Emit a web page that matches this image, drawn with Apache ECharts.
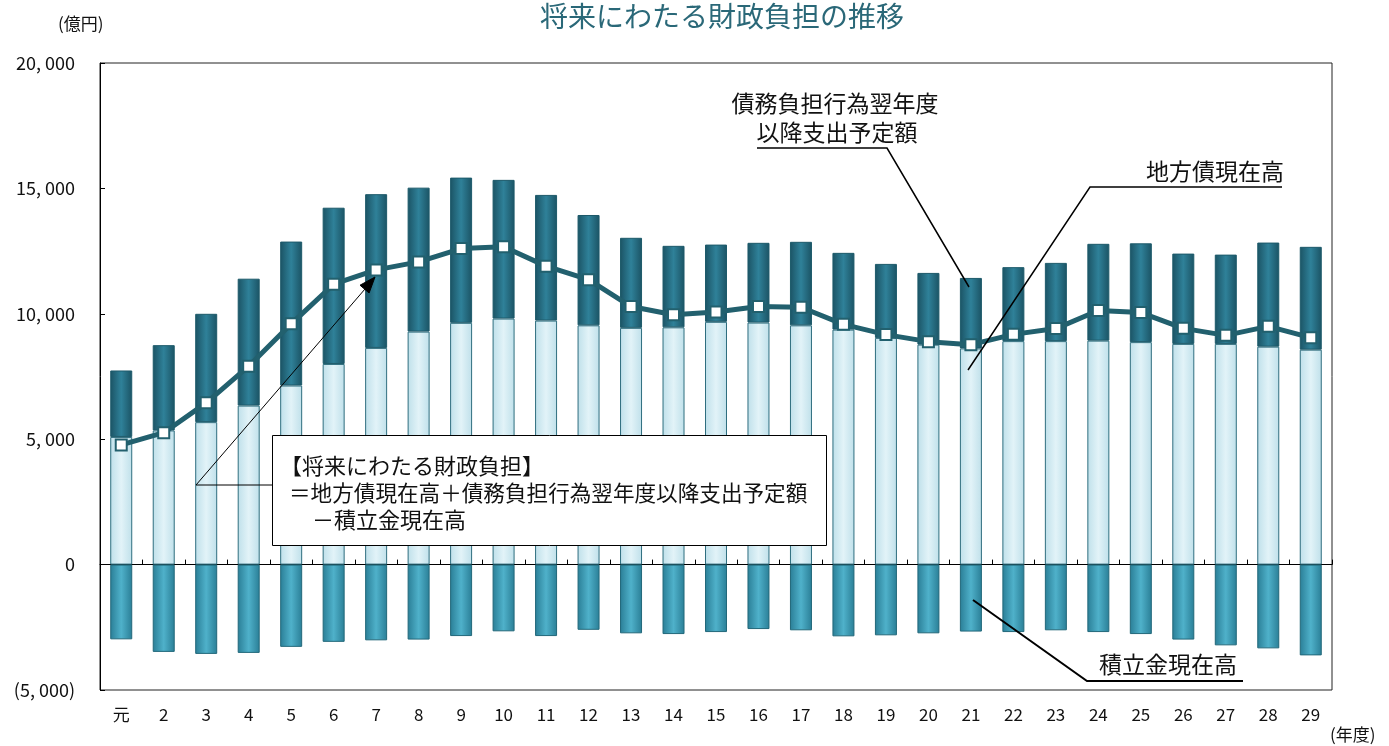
<!DOCTYPE html>
<html><head><meta charset="utf-8">
<script src="https://cdn.jsdelivr.net/npm/echarts@6/dist/echarts.min.js"></script>
<style>html,body{margin:0;padding:0;background:#fff}#c{width:1389px;height:746px}</style>
</head><body><div id="c"></div>
<script>
const categories = ['元','2','3','4','5','6','7','8','9','10','11','12','13','14','15','16','17','18','19','20','21','22','23','24','25','26','27','28','29'];
// 地方債現在高
const chihousai = [5090,5350,5680,6340,7140,8000,8640,9290,9640,9810,9730,9540,9440,9460,9680,9650,9540,9370,9040,8770,8620,8910,8910,8930,8870,8800,8800,8690,8570];
// 債務負担行為翌年度以降支出予定額
const saimu = [2650,3400,4320,5060,5740,6230,6130,5740,5790,5530,5010,4400,3590,3250,3080,3180,3330,3060,2950,2860,2810,2950,3120,3860,3940,3600,3560,4150,4100];
// 積立金現在高
const tsumitate = [-2980,-3480,-3560,-3520,-3280,-3080,-3020,-2990,-2850,-2660,-2850,-2600,-2740,-2770,-2690,-2570,-2620,-2860,-2820,-2740,-2670,-2690,-2620,-2690,-2770,-2990,-3220,-3340,-3620];
// 将来にわたる財政負担
const futan = [4770,5260,6450,7910,9600,11180,11750,12070,12600,12670,11900,11360,10290,9960,10070,10290,10260,9580,9170,8890,8770,9180,9410,10130,10050,9420,9140,9500,9050];
const yTicks = [-5000,0,5000,10000,15000,20000];
const yTickLabels = ['(5, 000)','0','5, 000','10, 000','15, 000','20, 000'];

const FONT = '"Noto Sans CJK JP", "Noto Sans", sans-serif';
function hgrad(edge, mid){
  return new echarts.graphic.LinearGradient(0,0,1,0,[
    {offset:0,color:edge},{offset:0.5,color:mid},{offset:1,color:edge}]);
}
const chart = echarts.init(document.getElementById('c'));
const BW = 22;
const option = {
  animation:false,
  title:{text:'将来にわたる財政負担の推移',left:535,top:-3,
    textStyle:{fontFamily:FONT,fontSize:28,fontWeight:'normal',color:'#2a6878'}},
  grid:{left:100,right:57,top:63,bottom:56,containLabel:false,outerBoundsMode:'none',
    show:true,borderColor:'#222',borderWidth:1,backgroundColor:'transparent'},
  xAxis:[
    {type:'category',data:categories,boundaryGap:true,
      axisLine:{onZero:true,lineStyle:{color:'#000',width:1}},
      axisTick:{show:true,inside:true,length:5,interval:0,lineStyle:{color:'#000'}},
      axisLabel:{show:false},
      splitLine:{show:false}},
    {type:'category',data:categories,boundaryGap:true,position:'bottom',
      axisLine:{show:false,onZero:false},axisTick:{show:false},
      axisLabel:{margin:16,interval:0,fontFamily:FONT,fontSize:17,color:'#111'},
      splitLine:{show:false}}
  ],
  yAxis:{type:'value',min:-5000,max:20000,interval:5000,
    axisLine:{show:true,lineStyle:{color:'#000'}},
    axisTick:{show:true,inside:true,length:5,lineStyle:{color:'#000'}},
    axisLabel:{margin:25,fontFamily:FONT,fontSize:18,color:'#111',
      formatter:function(v){const i=yTicks.indexOf(v);return i>=0?yTickLabels[i]:'';}},
    splitLine:{show:false}},
  series:[
    {name:'地方債現在高',type:'bar',stack:'a',barWidth:BW,data:chihousai,
      itemStyle:{color:hgrad('#bfe0ea','#e2f3f8'),borderColor:'#2f6e7f',borderWidth:1}},
    {name:'債務負担行為翌年度以降支出予定額',type:'bar',stack:'a',barWidth:BW,data:saimu,
      itemStyle:{color:hgrad('#1b5364','#2f8199'),borderColor:'#1d5a6a',borderWidth:1}},
    {name:'積立金現在高',type:'bar',stack:'a',barWidth:BW,data:tsumitate,
      itemStyle:{color:hgrad('#2a7e96','#4fb1ca'),borderColor:'#22687a',borderWidth:1}},
    {name:'将来にわたる財政負担',type:'line',data:futan,z:5,
      lineStyle:{color:'#22606e',width:5},
      symbol:'rect',symbolSize:11,showAllSymbol:true,
      itemStyle:{color:'#fff',borderColor:'#22606e',borderWidth:2}}
  ],
  graphic:[
    {type:'text',left:58,top:15,z:100,style:{text:'(億円)',font:'17px '+FONT,fill:'#111'}},
    {type:'text',left:1330,top:726,z:100,style:{text:'(年度)',font:'17px '+FONT,fill:'#111'}},
    {type:'text',x:835,y:103,z:100,style:{text:'債務負担行為翌年度',font:'23px '+FONT,fill:'#111',textAlign:'center',textVerticalAlign:'middle'}},
    {type:'text',x:837,y:132,z:100,style:{text:'以降支出予定額',font:'23px '+FONT,fill:'#111',textAlign:'center',textVerticalAlign:'middle'}},
    {type:'polyline',z:100,shape:{points:[[757,148],[887,148],[969,287]]},style:{stroke:'#000',lineWidth:1.5,fill:null}},
    {type:'text',x:1284,y:171,z:100,style:{text:'地方債現在高',font:'23px '+FONT,fill:'#111',textAlign:'right',textVerticalAlign:'middle'}},
    {type:'polyline',z:100,shape:{points:[[1282,187],[1090,187],[968,370]]},style:{stroke:'#000',lineWidth:1.5,fill:null}},
    {type:'text',x:1237,y:664,z:100,style:{text:'積立金現在高',font:'23px '+FONT,fill:'#111',textAlign:'right',textVerticalAlign:'middle'}},
    {type:'polyline',z:100,shape:{points:[[973,600],[1087,681],[1243,681]]},style:{stroke:'#000',lineWidth:2,fill:null}},
    {type:'rect',z:100,shape:{x:272.5,y:435.5,width:554,height:110},style:{fill:'#fff',stroke:'#000',lineWidth:1}},
    {type:'text',x:280,y:466,z:101,style:{text:'【将来にわたる財政負担】',font:'22px '+FONT,fill:'#111',textVerticalAlign:'middle'}},
    {type:'text',x:289,y:493,z:101,style:{text:'＝地方債現在高＋債務負担行為翌年度以降支出予定額',font:'21.6px '+FONT,fill:'#111',textVerticalAlign:'middle'}},
    {type:'text',x:312,y:520,z:101,style:{text:'－積立金現在高',font:'22px '+FONT,fill:'#111',textVerticalAlign:'middle'}},
    {type:'polyline',z:100,shape:{points:[[273,485],[196,485],[365,289]]},style:{stroke:'#000',lineWidth:1,fill:null}},
    {type:'polygon',z:100,shape:{points:[[375,277],[369.1,293],[360,285.2]]},style:{fill:'#000',stroke:'#000',lineWidth:1}}
  ]
};
chart.setOption(option);
</script></body></html>
